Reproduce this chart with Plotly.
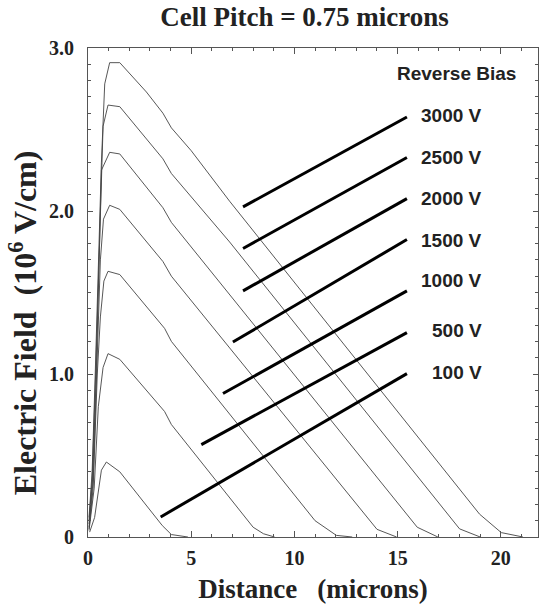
import plotly.graph_objects as go

# ---- data ----
bias_labels = ["100 V", "500 V", "1000 V", "1500 V", "2000 V", "2500 V", "3000 V"]

x_100 = [0.08, 0.32, 0.65, 0.89, 1.54, 3.6, 4.04, 4.84]
y_100 = [0.03, 0.12, 0.41, 0.46, 0.40, 0.07, 0.015, 0.0]
x_500 = [0.05, 0.3, 0.5, 0.73, 0.97, 1.54, 3.71, 4.04, 8.0, 8.5, 9.04]
y_500 = [0.04, 0.3, 0.8, 1.04, 1.125, 1.09, 0.77, 0.69, 0.06, 0.02, 0.0]
x_1000 = [0.05, 0.25, 0.45, 0.6, 0.77, 0.97, 1.54, 3.71, 4.04, 11.0, 12.03, 12.8]
y_1000 = [0.05, 0.3, 1.0, 1.35, 1.57, 1.63, 1.61, 1.28, 1.20, 0.10, 0.01, 0.0]
x_1500 = [0.05, 0.25, 0.42, 0.6, 0.75, 1.05, 1.54, 3.63, 4.04, 14.0, 14.95]
y_1500 = [0.06, 0.35, 1.0, 1.7, 1.95, 2.035, 2.01, 1.69, 1.60, 0.047, 0.0]
x_2000 = [0.05, 0.22, 0.4, 0.55, 0.65, 1.05, 1.54, 3.63, 4.04, 15.95, 16.95]
y_2000 = [0.08, 0.35, 1.0, 1.7, 2.25, 2.36, 2.35, 2.02, 1.93, 0.06, 0.0]
x_2500 = [0.05, 0.2, 0.37, 0.52, 0.73, 0.97, 1.54, 3.63, 4.04, 6.86, 18.0, 19.0]
y_2500 = [0.1, 0.35, 1.0, 1.7, 2.52, 2.65, 2.64, 2.32, 2.23, 1.81, 0.05, 0.0]
x_3000 = [0.05, 0.2, 0.35, 0.5, 0.65, 0.81, 1.05, 1.54, 2.83, 3.63, 4.04, 5.0, 6.86, 18.97, 20.02, 21.07]
y_3000 = [0.12, 0.4, 1.0, 1.7, 2.3, 2.78, 2.91, 2.91, 2.73, 2.60, 2.51, 2.37, 2.06, 0.14, 0.027, 0.0]

curves_x = [x_100, x_500, x_1000, x_1500, x_2000, x_2500, x_3000]
curves_y = [y_100, y_500, y_1000, y_1500, y_2000, y_2500, y_3000]

# leader lines (start / end in data units) and label positions
lead_x0 = [3.52, 5.49, 6.54, 7.02, 7.51, 7.51, 7.51]
lead_y0 = [0.123, 0.567, 0.88, 1.196, 1.51, 1.77, 2.025]
lead_x1 = [15.45, 15.45, 15.45, 15.45, 15.45, 15.45, 15.45]
lead_y1 = [1.0025, 1.254, 1.51, 1.825, 2.076, 2.328, 2.577]
label_x = 19.2
label_y = [1.012, 1.268, 1.575, 1.82, 2.076, 2.331, 2.587]

x_ticks = [0, 5, 10, 15, 20]
y_ticks = [0, 1, 2, 3]
y_ticktext = ["0", "1.0", "2.0", "3.0"]

fig = go.Figure()

for cx, cy in zip(curves_x, curves_y):
    fig.add_trace(go.Scatter(x=cx, y=cy, mode="lines",
                             line=dict(color="#444444", width=0.9),
                             showlegend=False, hoverinfo="skip"))

sans = "Liberation Sans, Arial, sans-serif"
serif = "Liberation Serif, Times New Roman, serif"
for i, lab in enumerate(bias_labels):
    fig.add_trace(go.Scatter(x=[lead_x0[i], lead_x1[i]], y=[lead_y0[i], lead_y1[i]],
                             mode="lines", line=dict(color="black", width=3),
                             showlegend=False, hoverinfo="skip"))
    fig.add_annotation(x=label_x, y=label_y[i], text="<b>" + lab + "</b>", showarrow=False,
                       xanchor="right", yanchor="middle",
                       font=dict(family=sans, size=19, color="#222222"))

fig.add_annotation(x=20.82, y=2.843, text="<b>Reverse Bias</b>", showarrow=False,
                   xanchor="right", yanchor="middle",
                   font=dict(family=sans, size=19, color="#222222"))

# y-axis title placed as a rotated annotation (positioned like the reference)
fig.add_annotation(xref="paper", yref="paper", x=0, y=0.437, xshift=-65,
                   text="<b>Electric Field  (10<sup>6</sup> V/cm)</b>", textangle=-90,
                   showarrow=False, xanchor="center", yanchor="middle",
                   font=dict(family=serif, size=32, color="#222222"))

axis_common = dict(showline=True, linecolor="#555555", linewidth=1, mirror="ticks",
                   ticks="inside", tickcolor="#555555", showgrid=False, zeroline=False,
                   automargin=False,
                   tickfont=dict(family=serif, size=20, color="#222222", weight="bold"))

fig.update_xaxes(range=[0, 21.8], tickvals=x_ticks, ticklen=6,
                 minor=dict(dtick=1, ticks="inside", ticklen=3, tickcolor="#555555"),
                 ticklabelstandoff=3,
                 title=dict(text="<b>Distance   (microns)</b>",
                            font=dict(family=serif, size=27, color="#222222"), standoff=11),
                 **axis_common)
fig.update_yaxes(range=[0, 3.0], tickvals=y_ticks, ticktext=y_ticktext, ticklen=5,
                 minor=dict(dtick=0.1, ticks="inside", ticklen=3, tickcolor="#555555"),
                 ticklabelstandoff=9,
                 **axis_common)

fig.update_layout(
    width=539, height=604,
    margin=dict(l=88, r=1, t=48, b=67),
    paper_bgcolor="white", plot_bgcolor="white",
    title=dict(text="<b>Cell Pitch = 0.75 microns</b>", x=0.565, xanchor="center",
               y=0.972, yanchor="middle",
               font=dict(family=serif, size=27, color="#222222")),
)

fig.write_html("out.html", config={"displayModeBar": False},
               post_script="document.body.style.margin='0';document.body.style.overflow='hidden';")
